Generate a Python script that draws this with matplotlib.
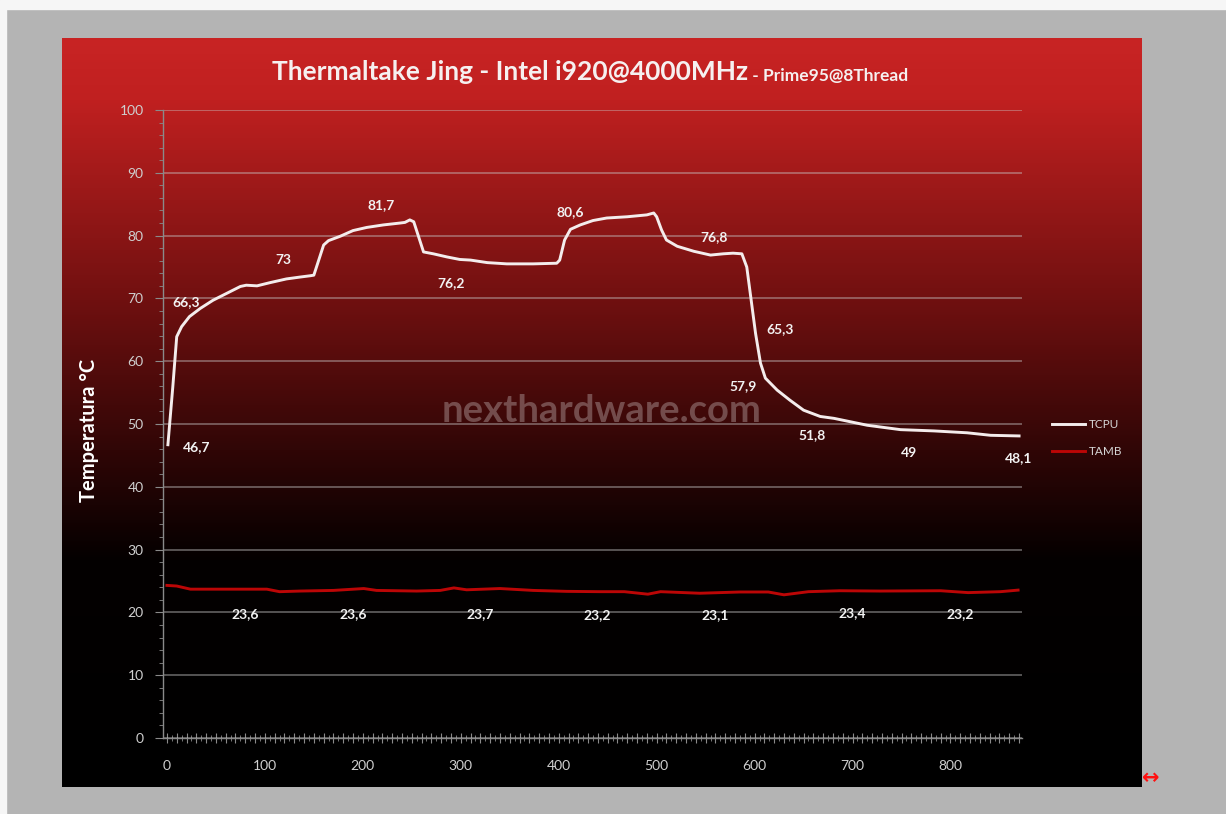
"""Thermaltake Jing - Intel i920@4000MHz, Prime95 load / idle temperature log."""

import matplotlib

matplotlib.use("Agg")

import matplotlib.pyplot as plt
import numpy as np
from matplotlib.patches import Rectangle
from matplotlib.ticker import FuncFormatter, MultipleLocator

# CPU temperature trace (sample index, deg C)
tcpu_x = [1, 6, 10, 15, 23, 34, 47, 61, 75, 81, 92, 105, 122, 136, 146, 150,
          155, 160, 165, 177, 190, 204, 221, 238, 243, 248, 252, 257, 262, 272,
          286, 299, 310, 327, 347, 374, 398, 401, 406, 412, 422, 435, 449, 470,
          490, 497, 500, 505, 510, 521, 538, 555, 568, 578, 587, 592, 596, 601,
          606, 611, 623, 636, 650, 667, 681, 715, 749, 783, 817, 841, 870]
tcpu_y = [46.7, 55.9, 63.9, 65.5, 67.1, 68.4, 69.7, 70.8, 71.9, 72.1, 72.0,
          72.5, 73.1, 73.4, 73.6, 73.7, 76.1, 78.5, 79.2, 79.9, 80.8, 81.3,
          81.7, 82.0, 82.1, 82.5, 82.2, 79.8, 77.4, 77.1, 76.6, 76.2, 76.1,
          75.7, 75.5, 75.5, 75.6, 76.1, 79.3, 81.0, 81.7, 82.4, 82.8, 83.0,
          83.3, 83.6, 83.0, 80.9, 79.3, 78.3, 77.5, 76.9, 77.1, 77.2, 77.1,
          75.0, 70.3, 64.4, 59.7, 57.3, 55.4, 53.8, 52.2, 51.2, 50.9, 49.8,
          49.1, 48.9, 48.6, 48.2, 48.1]

# ambient temperature trace
tamb_x = [0, 10, 24, 68, 102, 115, 136, 170, 201, 214, 255, 279, 293, 306,
          340, 374, 408, 442, 467, 491, 504, 544, 585, 614, 630, 655, 687, 728,
          790, 818, 851, 869]
tamb_y = [24.3, 24.2, 23.7, 23.7, 23.7, 23.3, 23.4, 23.5, 23.8, 23.5, 23.4,
          23.5, 23.9, 23.6, 23.8, 23.5, 23.35, 23.3, 23.3, 22.9, 23.3, 23.05,
          23.25, 23.25, 22.8, 23.3, 23.45, 23.4, 23.45, 23.15, 23.3, 23.55]

# value callouts written on the chart
tcpu_labels = ["46,7", "66,3", "73", "81,7", "76,2", "80,6", "76,8", "65,3",
               "57,9", "51,8", "49", "48,1"]
tcpu_label_x = [30, 20, 119, 219, 290, 412, 559, 626, 588, 659, 758, 869]
tcpu_label_y = [46.4, 69.4, 76.1, 84.8, 72.5, 83.8, 79.8, 65.1, 56.0, 48.2,
                45.4, 44.5]
tamb_labels = ["23,6", "23,6", "23,7", "23,2", "23,1", "23,4", "23,2"]
tamb_label_x = [80, 190, 320, 439, 560, 700, 810]
tamb_label_y = [19.8, 19.8, 19.8, 19.6, 19.6, 19.9, 19.8]

W, H = 1226, 814
FONT = "Lato"


def fx(px):
    return px / W


def fy(py):
    return 1 - py / H


fig = plt.figure(figsize=(W / 100, H / 100), dpi=100)
fig.patch.set_facecolor("#b4b4b4")
fig.patches.append(Rectangle((0, fy(9)), 1, 9 / H, transform=fig.transFigure,
                             color="#f6f6f6", zorder=0))
fig.patches.append(Rectangle((0, 0), 6 / W, 1, transform=fig.transFigure,
                             color="#f6f6f6", zorder=0))

# red-to-black panel
bg = fig.add_axes([fx(62), fy(787), fx(1080), 749 / H])
rows = np.arange(38, 788)
stops = [38, 100, 300, 450, 560, 787]
r = np.interp(rows, stops, [200, 192, 112, 48, 4, 0])
g = np.interp(rows, stops, [36, 32, 16, 6, 0, 0])
grad = np.stack([r, g, g], axis=1)[:, None, :] / 255.0
bg.imshow(grad, aspect="auto", extent=(0, 1, 0, 1), interpolation="bilinear")
bg.set_axis_off()

ax = fig.add_axes([fx(163), fy(738), fx(1022 - 163), (738 - 110) / H])
ax.patch.set_visible(False)
ax.set_xlim(-4, 873)
ax.set_ylim(0, 100)

ax.plot(tcpu_x, tcpu_y, color="#f4ecec", lw=2.1, solid_joinstyle="round",
        label="TCPU", zorder=4)
ax.plot(tamb_x, tamb_y, color="#bc0606", lw=2.1, solid_joinstyle="round",
        label="TAMB", zorder=4)

for s in ("top", "right"):
    ax.spines[s].set_visible(False)
for s in ("left", "bottom"):
    ax.spines[s].set_color("#8a8a8a")
    ax.spines[s].set_linewidth(1.0)

ax.yaxis.set_major_locator(MultipleLocator(10))
ax.yaxis.set_minor_locator(MultipleLocator(2))
ax.xaxis.set_major_locator(MultipleLocator(10))
ax.xaxis.set_minor_locator(MultipleLocator(5))
ax.xaxis.set_major_formatter(
    FuncFormatter(lambda v, _: f"{v:.0f}" if round(v) % 100 == 0 else ""))
ax.tick_params(axis="y", which="major", length=6, color="#8a8a8a",
               labelcolor="#cfcfcf", labelsize=10, pad=8)
ax.tick_params(axis="y", which="minor", length=3, color="#8a8a8a")
ax.tick_params(axis="x", which="major", direction="inout", length=7,
               color="#8a8a8a", labelcolor="#cfcfcf", labelsize=10, pad=12)
ax.tick_params(axis="x", which="minor", direction="inout", length=4,
               color="#8a8a8a")
for lab in ax.get_xticklabels() + ax.get_yticklabels():
    lab.set_fontfamily(FONT)

ax.grid(True, axis="y", which="major", color="#c8c8c8", alpha=0.45, lw=1.3)
ax.set_axisbelow(True)

for t, x, y in zip(tcpu_labels, tcpu_label_x, tcpu_label_y):
    ax.text(x, y, t, color="#f2f2f2", fontsize=10, fontweight="bold",
            family=FONT, ha="center", va="center", zorder=5)
for t, x, y in zip(tamb_labels, tamb_label_x, tamb_label_y):
    ax.text(x, y, t, color="#f2f2f2", fontsize=10, fontweight="bold",
            family=FONT, ha="center", va="center", zorder=5)

ax.text(0.51, 0.52, "nexthardware.com", transform=ax.transAxes,
        color="#a89090", alpha=0.5, fontsize=27.5, fontweight="bold",
        family=FONT, ha="center", va="center", zorder=3)

ax.set_ylabel("Temperatura °C", color="white", fontsize=14.5,
              fontweight="bold", family=FONT)
ax.yaxis.set_label_coords(fx(99 - 163) / fx(1022 - 163), 0.49)

leg = ax.legend(loc="center left", bbox_to_anchor=(fx(1046), fy(438)),
                bbox_transform=fig.transFigure, frameon=False,
                handlelength=2.8, handletextpad=0.35, labelspacing=1.4,
                borderpad=0, prop={"family": FONT, "size": 8.5})
for txt in leg.get_texts():
    txt.set_color("#d6d6d6")

t1 = fig.text(fx(272), fy(80), "Thermaltake Jing - Intel i920@4000MHz",
              color="#f6f0f0", fontsize=19, fontweight="bold", family=FONT,
              ha="left", va="baseline")
fig.canvas.draw()
ax.annotate(" - Prime95@8Thread", xy=(1, 0), xycoords=t1,
            color="#f6f0f0", fontsize=12.5, fontweight="bold",
            family=FONT, ha="left", va="bottom", annotation_clip=False)

fig.text(fx(1151), fy(778), "↔", color="#ff1010", fontsize=15,
         fontweight="bold", ha="center", va="center")

fig.savefig("out.png", dpi=100, facecolor=fig.get_facecolor())
